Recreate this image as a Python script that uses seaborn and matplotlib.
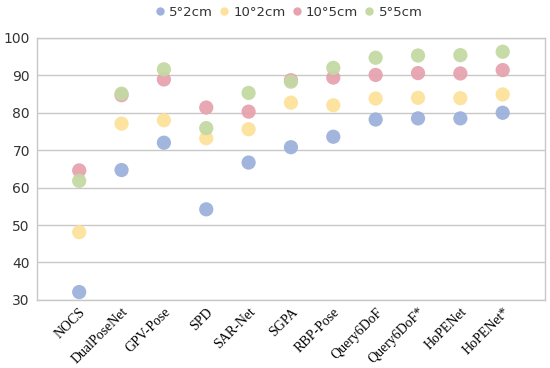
import matplotlib
matplotlib.use("Agg")
import matplotlib.pyplot as plt
import seaborn as sns
import pandas as pd

# Methods on the x axis
methods = ["NOCS", "DualPoseNet", "GPV-Pose", "SPD", "SAR-Net", "SGPA",
           "RBP-Pose", "Query6DoF", "Query6DoF*", "HoPENet", "HoPENet*"]

# mAP values per metric
m_5d2cm = [32.1, 64.7, 72.0, 54.2, 66.7, 70.8, 73.6, 78.2, 78.5, 78.5, 80.0]
m_10d2cm = [48.1, 77.1, 78.0, 73.2, 75.6, 82.7, 82.0, 83.8, 84.0, 83.9, 84.9]
m_10d5cm = [64.6, 84.7, 88.9, 81.4, 80.3, 88.7, 89.4, 90.1, 90.6, 90.5, 91.4]
m_5d5cm = [61.8, 85.1, 91.6, 75.9, 85.3, 88.3, 92.0, 94.7, 95.3, 95.4, 96.3]

series = ["5°2cm", "10°2cm", "10°5cm", "5°5cm"]
colors = ["#9DB1DC", "#FCE29B", "#E6A3AF", "#C4D9A4"]

# Long-form table for seaborn
rows = []
for name, vals in zip(series, [m_5d2cm, m_10d2cm, m_10d5cm, m_5d5cm]):
    for i, v in enumerate(vals):
        rows.append({"pos": i, "method": methods[i], "metric": name, "value": v})
df = pd.DataFrame(rows)

sns.set_style("white")
plt.rcParams['font.family'] = ['DejaVu Sans']

fig = plt.figure(figsize=(5.5, 3.68), dpi=100)
ax = fig.add_axes([0.067, 0.185, 0.924, 0.712])

ax = sns.scatterplot(data=df, x="pos", y="value", hue="metric", hue_order=series,
                     palette=colors, s=105, alpha=0.95, edgecolor="none",
                     legend=False, ax=ax, zorder=3)

# Axis ranges and ticks
ax.set_xlim(-1, 11)
ax.set_ylim(30, 100)
ax.set_yticks(range(30, 101, 10))
ax.set_xticks(range(len(methods)))
ax.set_xticks([1, 3, 5, 7, 9], minor=True)
ax.set_xticklabels(methods, rotation=45, ha="right", rotation_mode="anchor",
                   family="Liberation Serif", fontsize=10, color="black")
ax.tick_params(axis="x", which="both", length=0, pad=4)
ax.tick_params(axis="y", length=0, labelsize=10, colors="#333333", pad=5)
ax.set_xlabel("")
ax.set_ylabel("")

# Grid lines
ax.grid(axis="y", color="#C8C8C8", lw=1)
ax.grid(axis="x", which="minor", color="#C8C8C8", lw=1)
ax.set_axisbelow(True)
for sp in ax.spines.values():
    sp.set_color("#C8C8C8")
    sp.set_linewidth(1)

# Legend on top
handles = [plt.Line2D([], [], marker="o", ls="", color=c, markersize=5) for c in colors]
fig.legend(handles, series, loc="center", bbox_to_anchor=(0.525, 0.966), ncol=4,
           frameon=False, fontsize=9.5, handlelength=0.7, handletextpad=0.35,
           columnspacing=0.5, labelcolor="#333333")

fig.savefig("out.png", dpi=100)
